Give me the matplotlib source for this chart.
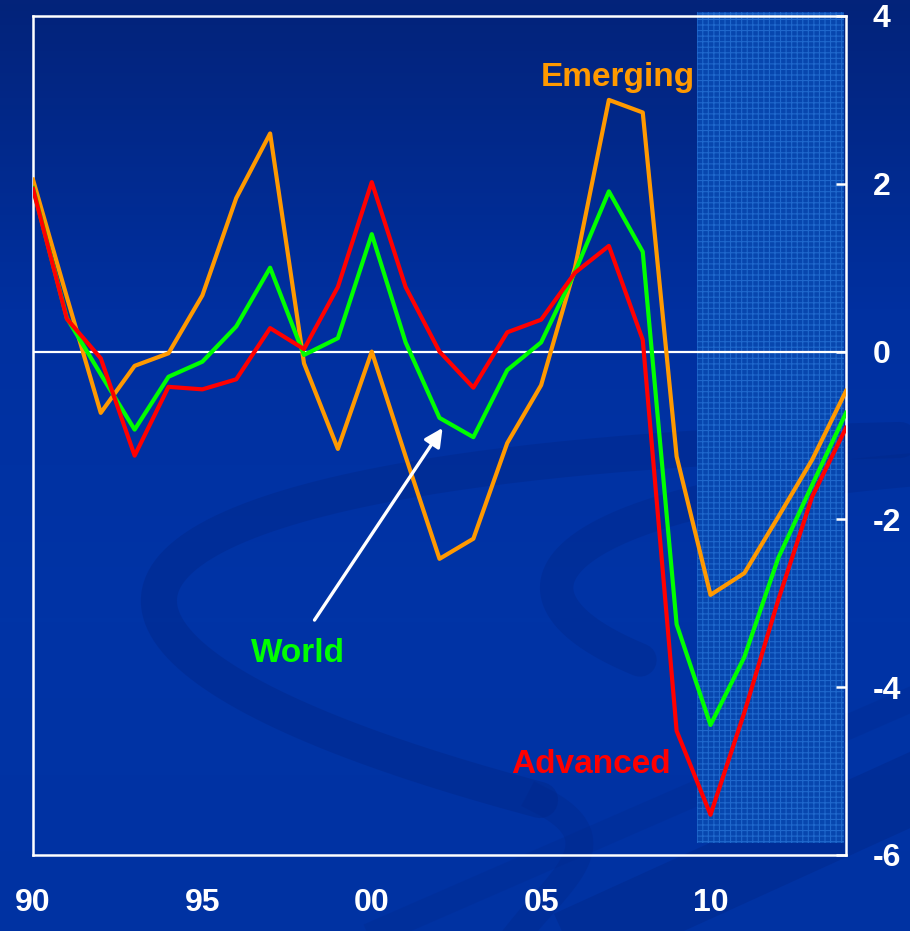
import numpy as np
import matplotlib
matplotlib.use("Agg")
import matplotlib.pyplot as plt
from matplotlib.patches import Rectangle
from matplotlib.colors import LinearSegmentedColormap

plt.rcParams["font.family"] = ["Liberation Sans", "DejaVu Sans"]
plt.rcParams["font.weight"] = "bold"
plt.rcParams["hatch.linewidth"] = 0.8

# Output gap (% of potential), 1990-2014
years = np.arange(1990, 2015)
emerging = [2.05, 0.65, -0.73, -0.17, -0.02, 0.67, 1.83, 2.6, -0.14, -1.16,
            0.0, -1.25, -2.47, -2.23, -1.09, -0.40, 1.0, 3.0, 2.85, -1.25,
            -2.9, -2.64, -1.97, -1.29, -0.47]
world = [1.95, 0.4, -0.27, -0.93, -0.3, -0.12, 0.3, 1.0, -0.04, 0.16,
         1.4, 0.11, -0.79, -1.02, -0.22, 0.11, 0.95, 1.91, 1.19, -3.25,
         -4.45, -3.64, -2.46, -1.59, -0.73]
advanced = [1.94, 0.39, -0.08, -1.24, -0.42, -0.45, -0.33, 0.28, 0.03, 0.77,
            2.02, 0.77, 0.0, -0.43, 0.23, 0.38, 0.94, 1.26, 0.14, -4.52,
            -5.52, -4.3, -2.96, -1.73, -0.91]

xtick_pos = [1990, 1995, 2000, 2005, 2010]
xtick_labels = ["90", "95", "00", "05", "10"]
ytick_pos = [-6, -4, -2, 0, 2, 4]
ytick_labels = ["-6", "-4", "-2", "0", "2", "4"]

# projection period shading
proj_start, proj_end = 2009.6, 2013.94
proj_low, proj_high = -5.86, 4.05

ORANGE = "#ff9900"
GREEN = "#00ff00"
RED = "#ff0000"


def bezier(p0, p1, p2, p3, n=200):
    t = np.linspace(0, 1, n)[:, None]
    pts = ((1 - t) ** 3 * np.array(p0) + 3 * (1 - t) ** 2 * t * np.array(p1)
           + 3 * (1 - t) * t ** 2 * np.array(p2) + t ** 3 * np.array(p3))
    return pts[:, 0], pts[:, 1]


fig = plt.figure(figsize=(9.1, 9.31), dpi=100)

# slide-style background: gradient plus a few dark swooshes
bg = fig.add_axes([0, 0, 1, 1], zorder=-10)
bg.set_xlim(0, 910)
bg.set_ylim(931, 0)
bg.axis("off")
cmap = LinearSegmentedColormap.from_list("bg", ["#03237a", "#0030a0", "#0034a6", "#0032a2"])
grad = np.linspace(0, 1, 256).reshape(-1, 1)
bg.imshow(grad, cmap=cmap, aspect="auto", extent=[0, 910, 931, 0], zorder=0)

swoosh = "#00278a"
x, y = bezier((900, 440), (40, 460), (-60, 640), (540, 800))
bg.plot(x, y, color=swoosh, lw=26, alpha=0.45, solid_capstyle="round", zorder=1)
x, y = bezier((540, 800), (620, 840), (560, 880), (520, 931))
bg.plot(x, y, color=swoosh, lw=20, alpha=0.35, zorder=1)
x, y = bezier((910, 470), (560, 500), (470, 590), (640, 660))
bg.plot(x, y, color=swoosh, lw=24, alpha=0.4, solid_capstyle="round", zorder=1)
# diagonal bands in the lower right
bg.plot([600, 910], [931, 790], color=swoosh, lw=50, alpha=0.45, zorder=1)
bg.plot([380, 910], [931, 700], color=swoosh, lw=18, alpha=0.25, zorder=1)

ax = fig.add_axes([33 / 910, 76 / 931, 813 / 910, 839 / 931])
ax.set_facecolor("none")
ax.set_xlim(1990, 2014)
ax.set_ylim(-6, 4)

ax.add_patch(Rectangle((proj_start, proj_low), proj_end - proj_start, proj_high - proj_low,
                       facecolor="#0746ae", edgecolor="#1f68cc", hatch="+++",
                       linewidth=0, zorder=1, clip_on=False))

ax.axhline(0, color="white", lw=1.6, zorder=2)

ax.plot(years, emerging, color=ORANGE, lw=3, zorder=3)
ax.plot(years, world, color=GREEN, lw=3, zorder=4)
ax.plot(years, advanced, color=RED, lw=3, zorder=5)

ax.text(2007.25, 3.166, "Emerging", color=ORANGE, fontsize=24, fontweight="bold",
        ha="center", va="baseline")
ax.text(1997.81, -3.70, "World", color=GREEN, fontsize=24, fontweight="bold",
        ha="center", va="baseline")
ax.text(2006.48, -5.02, "Advanced", color=RED, fontsize=24, fontweight="bold",
        ha="center", va="baseline")

ax.annotate("", xy=(2002.09, -0.91), xytext=(1998.31, -3.20),
            arrowprops=dict(arrowstyle="-|>,head_length=1.1,head_width=0.55",
                            color="white", lw=2.4, shrinkA=0, shrinkB=0), zorder=6)

for s in ax.spines.values():
    s.set_color("white")
    s.set_linewidth(1.8)

ax.set_xticks(xtick_pos)
ax.set_xticklabels(xtick_labels)
ax.tick_params(axis="x", length=0, pad=24, labelsize=23, labelcolor="white")

ax.yaxis.tick_right()
ax.set_yticks(ytick_pos)
ax.set_yticklabels(ytick_labels)
ax.tick_params(axis="y", direction="in", length=7, width=1.8, color="white",
               pad=19, labelsize=23, labelcolor="white")

fig.savefig("out.png", dpi=100)
